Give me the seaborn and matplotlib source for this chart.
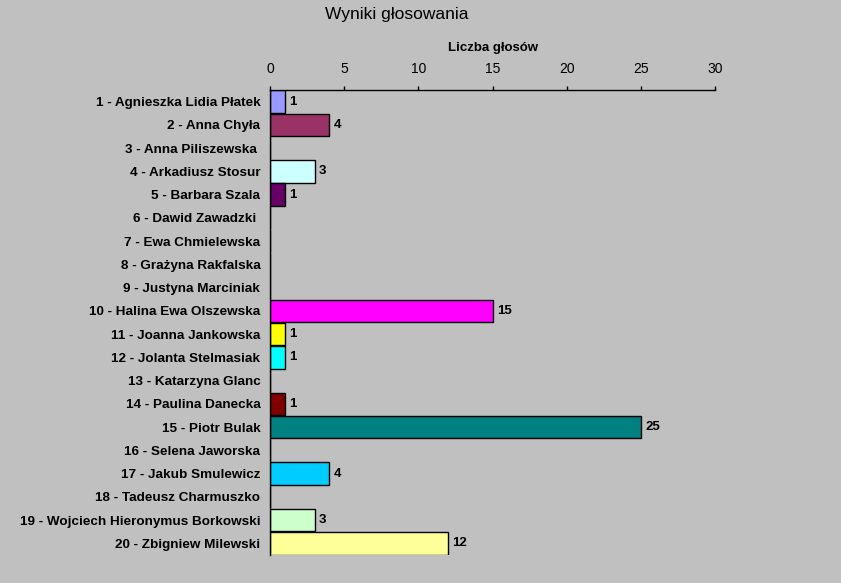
import pandas as pd
import matplotlib.pyplot as plt
import seaborn as sns

# Dane z wykresu
kandydaci = [
    '1 - Agnieszka Lidia Płatek', '2 - Anna Chyła', '3 - Anna Piliszewska ',
    '4 - Arkadiusz Stosur', '5 - Barbara Szala', '6 - Dawid Zawadzki ',
    '7 - Ewa Chmielewska', '8 - Grażyna Rakfalska', '9 - Justyna Marciniak',
    '10 - Halina Ewa Olszewska', '11 - Joanna Jankowska', '12 - Jolanta Stelmasiak',
    '13 - Katarzyna Glanc', '14 - Paulina Danecka', '15 - Piotr Bulak',
    '16 - Selena Jaworska', '17 - Jakub Smulewicz', '18 - Tadeusz Charmuszko',
    '19 - Wojciech Hieronymus Borkowski', '20 - Zbigniew Milewski',
]
glosy = [1, 4, 0, 3, 1, 0, 0, 0, 0, 15, 1, 1, 0, 1, 25, 0, 4, 0, 3, 12]
kolory = ['#9999FF', '#993366', '#C0C0C0', '#CCFFFF', '#660066', '#C0C0C0',
          '#C0C0C0', '#C0C0C0', '#C0C0C0', '#FF00FF', '#FFFF00', '#00FFFF',
          '#C0C0C0', '#800000', '#008080', '#C0C0C0', '#00CCFF', '#C0C0C0',
          '#CCFFCC', '#FFFF99']
x_ticks = [0, 5, 10, 15, 20, 25, 30]

df = pd.DataFrame({'kandydat': kandydaci, 'glosy': glosy})

sns.set_style('white')
plt.rcParams['font.family'] = ['Liberation Sans', 'DejaVu Sans']
plt.rcParams['text.color'] = 'black'

fig = plt.figure(figsize=(8.41, 5.83), dpi=100, facecolor='#C0C0C0')
ax = fig.add_axes([270 / 841, 1 - 555 / 583, 445 / 841, 465 / 583])
ax.set_facecolor('#C0C0C0')

sns.barplot(data=df, y='kandydat', x='glosy', hue='kandydat', palette=kolory,
            orient='h', width=0.96, edgecolor='black', linewidth=1,
            saturation=1, legend=False, ax=ax)

# Etykiety wartości (tylko niezerowe)
for i, v in enumerate(glosy):
    if v > 0:
        ax.text(v + 0.3, i, str(v), va='center', ha='left', color='black',
                fontsize=9.5, fontweight='bold')

ax.set_xlim(0, 30)
ax.set_ylim(len(kandydaci) - 0.5, -0.5)
ax.set_xticks(x_ticks)
ax.xaxis.tick_top()
ax.xaxis.set_label_position('top')
ax.tick_params(axis='x', direction='out', length=3, width=1, color='black',
               labelcolor='black', labelsize=10, pad=7)
ax.tick_params(axis='y', length=0, labelsize=9.7, labelcolor='black', pad=7)
for lab in ax.get_yticklabels():
    lab.set_fontweight('bold')
ax.set_xlabel('Liczba głosów', fontsize=9.5, fontweight='bold', color='black',
              labelpad=8)
ax.set_ylabel('')

for s in ['right', 'bottom']:
    ax.spines[s].set_visible(False)
for s in ['top', 'left']:
    ax.spines[s].set_color('black')
    ax.spines[s].set_linewidth(1)

fig.text(397 / 841, 1 - 14 / 583, 'Wyniki głosowania', ha='center', va='center',
         fontsize=12.5, color='black')

fig.savefig('out.png', dpi=100, facecolor='#C0C0C0')
